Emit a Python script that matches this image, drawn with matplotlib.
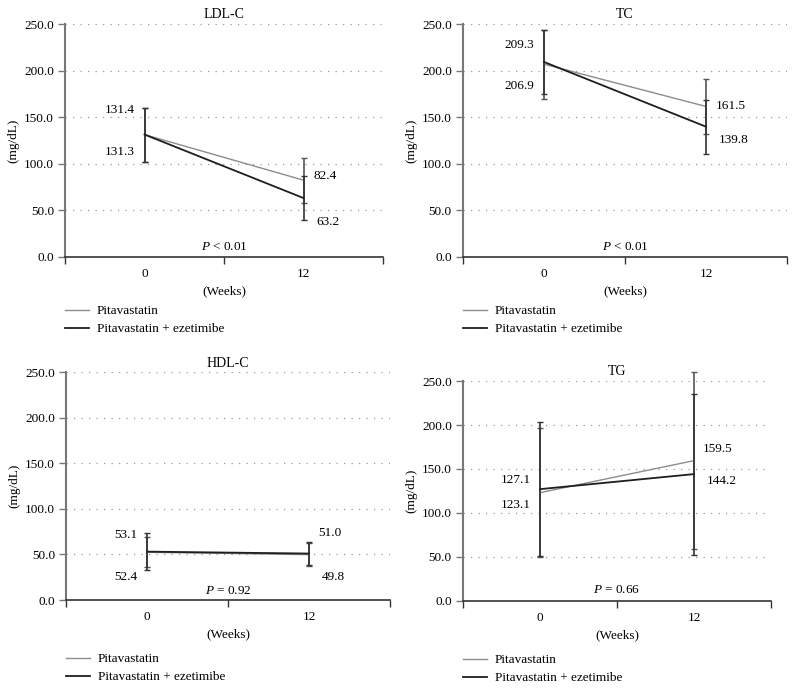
import matplotlib
matplotlib.use("Agg")
import matplotlib.pyplot as plt

plt.rcParams['font.family'] = ['Liberation Serif', 'DejaVu Serif']
plt.rcParams['mathtext.fontset'] = 'custom'
plt.rcParams['mathtext.it'] = 'Liberation Serif:italic'
plt.rcParams['mathtext.rm'] = 'Liberation Serif'

# ---- data ----
weeks = ["0", "12"]
series_names = ["Pitavastatin", "Pitavastatin + ezetimibe"]
panel_titles = ["LDL-C", "TC", "HDL-C", "TG"]

ldl_pita = [131.3, 82.4]
ldl_pita_sd = [29.0, 24.3]
ldl_eze = [131.4, 63.2]
ldl_eze_sd = [29.0, 23.5]

tc_pita = [206.9, 161.5]
tc_pita_sd = [37.0, 30.0]
tc_eze = [209.3, 139.8]
tc_eze_sd = [34.7, 29.0]

hdl_pita = [52.4, 49.8]
hdl_pita_sd = [16.4, 13.0]
hdl_eze = [53.1, 51.0]
hdl_eze_sd = [20.0, 13.0]

tg_pita = [123.1, 159.5]
tg_pita_sd = [73.0, 100.7]
tg_eze = [127.1, 144.2]
tg_eze_sd = [76.0, 91.4]

p_texts = [r"$P$ < 0.01", r"$P$ < 0.01", r"$P$ = 0.92", r"$P$ = 0.66"]

# value label strings (week0 upper, week0 lower, week12 upper, week12 lower)
label_texts = [
    ["131.4", "131.3", "82.4", "63.2"],
    ["209.3", "206.9", "161.5", "139.8"],
    ["53.1", "52.4", "51.0", "49.8"],
    ["127.1", "123.1", "159.5", "144.2"],
]
# label y-positions (layout)
label_ypos = [
    [158, 113, 87, 37],
    [228, 183, 162, 125],
    [71, 25, 74, 25],
    [137, 109, 173, 136],
]
p_ypos = [11, 11, 10, 12.5]

panels = [
    (ldl_pita, ldl_pita_sd, ldl_eze, ldl_eze_sd),
    (tc_pita, tc_pita_sd, tc_eze, tc_eze_sd),
    (hdl_pita, hdl_pita_sd, hdl_eze, hdl_eze_sd),
    (tg_pita, tg_pita_sd, tg_eze, tg_eze_sd),
]

axes_rects = [
    [0.0816, 0.6265, 0.3990, 0.3386],
    [0.5809, 0.6265, 0.4066, 0.3386],
    [0.0828, 0.1279, 0.4065, 0.3310],
    [0.5809, 0.1265, 0.3865, 0.3197],
]

fig = plt.figure(figsize=(7.97, 6.88), dpi=100)
FS = 9.5
gray = "#8c8c8c"
black = "#1e1e1e"

for i, (rect, (p, psd, e, esd)) in enumerate(zip(axes_rects, panels)):
    ax = fig.add_axes(rect)
    x = list(range(len(weeks)))
    ax.set_xlim(-0.5, 1.5)
    ax.set_ylim(0, 250)
    yt = [0, 50, 100, 150, 200, 250]
    ax.set_yticks(yt)
    ax.set_yticklabels([f"{v:.1f}" for v in yt], fontsize=FS)
    ax.set_xticks([-0.5, 0.5, 1.5])
    ax.set_xticklabels([])
    ax.set_xticks(x, minor=True)
    ax.set_xticklabels(weeks, minor=True, fontsize=FS)
    ax.tick_params(axis='x', which='minor', length=0, pad=8)
    ax.tick_params(axis='x', which='major', length=5, width=1.0, color="#333333")
    ax.tick_params(axis='y', length=5, width=1.0, color="#777777", pad=3)
    for s in ["top", "right"]:
        ax.spines[s].set_visible(False)
    ax.spines["left"].set_color("#777777")
    ax.spines["left"].set_linewidth(1.5)
    ax.spines["bottom"].set_color("#333333")
    ax.spines["bottom"].set_linewidth(1.2)
    for v in yt[1:]:
        ax.axhline(v, color="#999999", linestyle=(0, (1, 5)), linewidth=0.9, zorder=0)

    ax.errorbar(x, p, yerr=psd, color=gray, ecolor="#555555", elinewidth=1.2,
                capsize=2.5, capthick=1.0, linewidth=1.0, clip_on=False, zorder=3,
                label=series_names[0])
    ax.errorbar(x, e, yerr=esd, color=black, ecolor="#333333", elinewidth=1.2,
                capsize=2.5, capthick=1.0, linewidth=1.3, clip_on=False, zorder=4,
                label=series_names[1])

    lt = label_texts[i]
    ly = label_ypos[i]
    ax.text(-0.06, ly[0], lt[0], ha="right", va="center", fontsize=FS)
    ax.text(-0.06, ly[1], lt[1], ha="right", va="center", fontsize=FS)
    ax.text(1.06, ly[2], lt[2], ha="left", va="center", fontsize=FS)
    ax.text(1.08, ly[3], lt[3], ha="left", va="center", fontsize=FS)
    ax.text(0.5, p_ypos[i], p_texts[i], ha="center", va="center", fontsize=FS)

    ax.set_title(panel_titles[i], fontsize=FS + 0.5, pad=4)
    ax.set_ylabel("(mg/dL)", fontsize=FS, labelpad=3)
    ax.set_xlabel("(Weeks)", fontsize=FS, labelpad=4)

    handles = [plt.Line2D([], [], color=gray, linewidth=1.0),
               plt.Line2D([], [], color=black, linewidth=1.3)]
    h = rect[3] * 688
    ax.legend(handles, series_names, loc="upper left",
              bbox_to_anchor=(0.0, -48 / h if i < 2 else -53 / h),
              frameon=False, fontsize=FS, borderpad=0, borderaxespad=0,
              handlelength=1.8, handletextpad=0.6, labelspacing=0.45)

fig.savefig("out.png", dpi=100)
